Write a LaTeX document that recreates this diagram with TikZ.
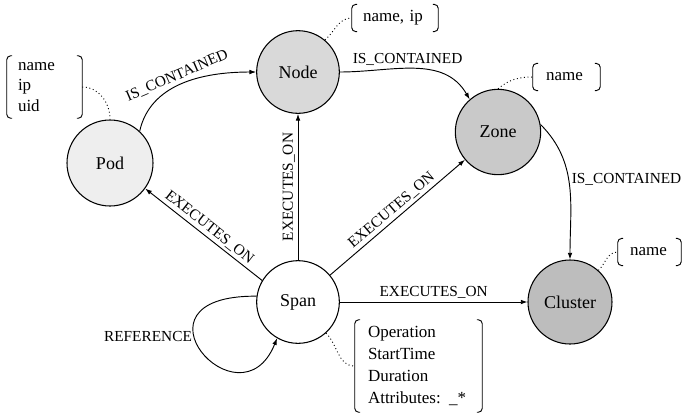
\documentclass[tikz,border=0pt]{standalone}
\usepackage{fontspec}
\setmainfont{Liberation Serif}
\usetikzlibrary{arrows.meta}
\definecolor{podfill}{HTML}{EEEEEE}
\definecolor{nodefill}{HTML}{D9D9D9}
\definecolor{zonefill}{HTML}{C9C9C9}
\definecolor{clusterfill}{HTML}{BDBDBD}
\begin{document}
\begin{tikzpicture}[x=0.75pt,y=-0.75pt,
  ent/.style={circle,draw,line width=0.8pt,font=\fontsize{13.5}{16}\selectfont,inner sep=0pt},
  rel/.style={-{Latex[length=5pt,width=3.5pt]},line width=0.7pt},
  lbl/.style={font=\fontsize{11.5}{13}\selectfont,inner sep=2pt},
  props/.style={font=\fontsize{12.75}{15.6}\selectfont,align=left,inner ysep=0pt},
  brk/.style={line width=0.7pt,rounded corners=3pt},
  dot/.style={dotted,line width=0.7pt}]
\useasboundingbox (0,0) rectangle (683,412);

% entities
\node[ent,fill=podfill,minimum size=64.5pt] (pod) at (110,163) {Pod};
\node[ent,fill=nodefill,minimum size=62pt] (node) at (298,72) {Node};
\node[ent,fill=zonefill,minimum size=64pt] (zone) at (498,132) {Zone};
\node[ent,fill=clusterfill,minimum size=63pt] (cluster) at (570,302) {Cluster};
\node[ent,fill=white,minimum size=62pt] (span) at (298,302) {Span};

% property boxes
\node[props,inner xsep=8.25pt,text width=39.75pt,minimum height=46.5pt] (podp) at (44.5,87) {name\\ip\\uid};
\node[props,inner xsep=8.25pt,text width=48pt,minimum height=20pt] (nodep) at (395,18) {name, ip};
\node[props,inner xsep=9.75pt,text width=30.75pt,minimum height=20pt] (zonep) at (566.5,77) {name};
\node[props,inner xsep=9pt,text width=29.25pt,minimum height=20pt] (clusterp) at (649.5,252) {name};
\node[props,inner xsep=9.75pt,text width=75.75pt,minimum height=69pt,font=\fontsize{12.75}{16.3}\selectfont] (spanp) at (418.5,366) {Operation\\StartTime\\Duration\\Attributes: \_*};

\foreach \p in {podp,nodep,zonep,clusterp,spanp}{
  \draw[brk] ([xshift=4pt]\p.north west) -| (\p.south west) -- ++(4pt,0pt);
  \draw[brk] ([xshift=-4pt]\p.north east) -| (\p.south east) -- ++(-4pt,0pt);
}

% dotted attachments
\draw[dot] (podp.east) to[out=0,in=90] (pod.north);
\draw[dot] (node.50) to[out=40,in=180] (nodep.west);
\draw[dot] (zone.north) to[out=40,in=180] (zonep.west);
\draw[dot] (cluster.48) to[out=45,in=180] (clusterp.west);
\draw[dot] (span.-48) to[out=-45,in=180] (spanp.west);

% relations
\draw[rel] (pod.47) .. controls (150,85) and (200,72) .. node[lbl,pos=0.5,above,sloped] {IS\_CONTAINED} (node.west);
\draw[rel] (node.east) to[out=0,in=120] node[lbl,pos=0.45,above,sloped] {IS\_CONTAINED} (zone.131);
\draw[rel] (zone.10) to[out=-45,in=90] node[lbl,pos=0.45,anchor=west,inner sep=0pt,xshift=2pt] {IS\_CONTAINED} (cluster.north);
\draw[rel] (span.149) -- node[lbl,midway,above,sloped] {EXECUTES\_ON} (pod.-36);
\draw[rel] (span.north) -- node[lbl,midway,above,sloped] {EXECUTES\_ON} (node.south);
\draw[rel] (span.40) -- node[lbl,midway,above,sloped] {EXECUTES\_ON} (zone.-140);
\draw[rel] (span.east) -- node[lbl,midway,above] {EXECUTES\_ON} (cluster.west);
\draw[rel] (span.172) .. controls (120,295) and (240,430) .. (span.240);
\node[lbl] (reflbl) at (148,336) {REFERENCE};
\end{tikzpicture}
\end{document}
